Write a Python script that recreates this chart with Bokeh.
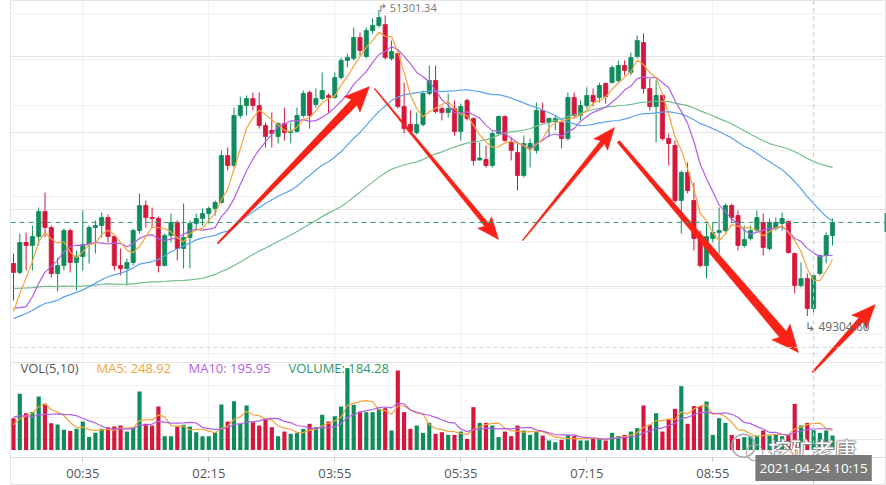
import numpy as np
import pandas as pd
from bokeh.plotting import figure
from bokeh.models import (Range1d, FixedTicker, DatetimeTickFormatter, Grid, Span,
                          Label, ColumnDataSource)
from bokeh.embed import file_html
from bokeh.resources import INLINE

# ---------------- data ----------------
start_time = "2021-04-23 23:40"
bar_minutes = 5

opens = [49647, 49589, 49784, 49765, 49823, 49986, 49882, 49582, 49634, 49862,
         49654, 49693, 49771, 49882, 49895, 49947, 49823, 49634, 49615, 49654,
         49862, 50025, 49947, 49941, 49634, 49830, 49915, 49745, 49817, 49908,
         49941, 49973, 50006, 50045, 50351, 50286, 50612, 50677, 50723, 50677,
         50547, 50514, 50475, 50560, 50501, 50508, 50612, 50762, 50684, 50723,
         50743, 50730, 50860, 50971, 50984, 51121, 50997, 51166, 51199, 51205,
         50984, 51016, 50671, 50554, 50501, 50554, 50756, 50840, 50658, 50632,
         50658, 50508, 50710, 50593, 50322, 50325, 50286, 50495, 50606, 50436,
         50371, 50221, 50404, 50384, 50645, 50567, 50573, 50567, 50462, 50730,
         50612, 50677, 50743, 50730, 50821, 50827, 50840, 50938, 50893, 50997,
         51088, 50788, 50671, 50743, 50462, 50417, 50058, 50241, 50058, 49823,
         49634, 49810, 49849, 49862, 50025, 49960, 49765, 49810, 49862, 49915,
         49745, 49875, 49908, 49921, 49712, 49504, 49549, 49354, 49582, 49699,
         49830]
highs = [49712, 49843, 49849, 49895, 50012, 50110, 49895, 49686, 49875, 49875,
         49732, 49993, 49895, 49928, 49980, 49967, 49830, 49745, 49680, 49875,
         50104, 50058, 50012, 49954, 49843, 49973, 49928, 50038, 49928, 49973,
         50006, 50019, 50058, 50384, 50404, 50664, 50736, 50743, 50762, 50762,
         50567, 50632, 50567, 50664, 50567, 50664, 50775, 50775, 50788, 50893,
         50756, 50893, 50990, 51016, 51186, 51153, 51186, 51245, 51301.34, 51264,
         51101, 51036, 50827, 50645, 50632, 50775, 50938, 50938, 50671, 50756,
         50710, 50690, 50723, 50599, 50436, 50417, 50508, 50612, 50612, 50469,
         50430, 50482, 50462, 50697, 50697, 50599, 50612, 50580, 50762, 50762,
         50710, 50795, 50788, 50827, 50827, 50938, 50971, 50971, 51023, 51134,
         51147, 50853, 50840, 50756, 50495, 50449, 50254, 50306, 50175, 49862,
         49908, 49915, 50012, 50038, 50038, 49993, 49895, 49895, 49993, 49973,
         49941, 49947, 49980, 49928, 49719, 49654, 49582, 49582, 49706, 49849,
         49941]
lows = [49406, 49576, 49602, 49602, 49765, 49817, 49556, 49465, 49602, 49589,
        49471, 49602, 49647, 49712, 49817, 49784, 49602, 49569, 49504, 49634,
        49843, 49882, 49882, 49589, 49628, 49784, 49667, 49615, 49615, 49862,
        49895, 49908, 49960, 50038, 50254, 50273, 50593, 50612, 50645, 50527,
        50404, 50404, 50430, 50449, 50430, 50501, 50599, 50527, 50664, 50710,
        50632, 50723, 50847, 50925, 50971, 51003, 50984, 51147, 51186, 50977,
        50971, 50658, 50495, 50488, 50488, 50541, 50743, 50625, 50580, 50599,
        50482, 50449, 50580, 50286, 50319, 50273, 50273, 50488, 50443, 50319,
        50123, 50208, 50273, 50364, 50560, 50469, 50514, 50397, 50449, 50593,
        50580, 50658, 50671, 50697, 50690, 50821, 50827, 50873, 50873, 50984,
        50756, 50645, 50436, 50449, 50286, 50045, 49843, 50104, 49732, 49621,
        49549, 49784, 49712, 49849, 49915, 49732, 49752, 49797, 49849, 49699,
        49732, 49862, 49862, 49712, 49452, 49491, 49304.60, 49328, 49569, 49647,
        49765]
closes = [49589, 49784, 49765, 49823, 49986, 49882, 49582, 49634, 49862, 49654,
          49693, 49771, 49882, 49895, 49947, 49823, 49634, 49615, 49654, 49862,
          50025, 49947, 49941, 49634, 49830, 49915, 49745, 49817, 49908, 49941,
          49973, 50006, 50045, 50351, 50286, 50612, 50677, 50723, 50677, 50547,
          50475, 50495, 50560, 50501, 50508, 50612, 50756, 50612, 50723, 50775,
          50730, 50860, 50971, 50990, 51121, 51036, 51166, 51199, 51251, 50990,
          51029, 50671, 50527, 50508, 50554, 50756, 50840, 50638, 50632, 50658,
          50508, 50671, 50593, 50319, 50335, 50286, 50495, 50606, 50449, 50384,
          50221, 50430, 50430, 50645, 50567, 50593, 50593, 50462, 50730, 50612,
          50677, 50743, 50704, 50808, 50736, 50925, 50938, 50906, 50990, 51101,
          50788, 50671, 50743, 50462, 50430, 50058, 50241, 50123, 49810, 49634,
          49823, 49849, 49862, 50025, 49947, 49765, 49804, 49862, 49947, 49752,
          49915, 49915, 49941, 49719, 49504, 49549, 49354, 49569, 49699, 49830,
          49915]
volumes = [297, 524, 343, 353, 499, 430, 250, 238, 188, 176,
           197, 266, 120, 160, 197, 213, 219, 228, 172, 213,
           545, 244, 228, 405, 129, 129, 219, 235, 219, 166,
           129, 129, 160, 424, 266, 455, 244, 415, 259, 228,
           291, 213, 129, 172, 151, 160, 197, 244, 213, 328,
           266, 315, 405, 763, 421, 359, 353, 353, 384, 390,
           182, 741, 353, 197, 228, 160, 253, 151, 166, 141,
           141, 172, 104, 399, 253, 253, 228, 120, 172, 129,
           228, 182, 141, 172, 135, 89, 73, 95, 141, 129,
           89, 89, 104, 110, 89, 160, 129, 141, 172, 204,
           415, 235, 343, 172, 284, 384, 595, 244, 409, 409,
           452, 141, 297, 253, 141, 104, 120, 129, 135, 182,
           135, 141, 129, 140, 430, 228, 253, 184.28, 160, 182,
           135]
# closes / volumes just before the visible window (they only feed the MA lines)
prev_closes = [49700, 49660, 49690, 49720, 49650, 49630, 49680, 49710, 49740, 49690,
               49660, 49700, 49670, 49640, 49690, 49720, 49700, 49660, 49680, 49650,
               49700, 49730, 49690, 49660, 49640, 49680, 49710, 49690, 49660, 49650,
               49290, 49262, 49222, 49241, 49275, 49300, 49262, 49210, 49228, 49248,
               49282, 49268, 49235, 49215, 49248, 49274, 49287, 49255, 49228, 49268,
               49732, 49699, 49178, 49113, 49145, 49210, 49243, 49289, 49341]
prev_volumes = [390, 350, 420, 360, 365, 240, 210, 235, 193]

tick_labels = ["00:35", "02:15", "03:55", "05:35", "07:15", "08:55"]
tick_day = "2021-04-24"
cursor_bar = 127
vol_legend = ["VOL(5,10)", "MA5: 248.92", "MA10: 195.95", "VOLUME: 184.28"]
watermark = "挖矿老唐"
price_grid = [51275, 50977, 50679, 50381, 50083, 49785, 49487, 49189]
volume_grid = [300, 600, 900]
pane_split = 49100          # dashed line between price and volume panes
time_axis_at = 48382        # price level where the time axis is drawn
# hand-drawn red arrows: (bar index, price)
arrow_starts = [(32.4, 49778), (57.3, 50788), (80.8, 49797), (96.0, 50443), (126.8, 48937)]
arrow_ends = [(56.5, 50801), (77.0, 49804), (95.4, 50534), (124.6, 49067), (136.8, 49380)]
arrow_tail_px = [1.5, 1.0, 1.0, 3.0, 1.5]
arrow_neck_px = [8.0, 5.0, 5.0, 9.0, 6.0]
arrow_head_len = [22, 19, 19, 24, 21]
arrow_head_half = [11, 9, 9, 12, 10]

# ---------------- styles / layout ----------------
UP = "#0f8c5c"
DOWN = "#d4173b"
C_MA5 = "#f5a33a"
C_MA10 = "#b45ee6"
C_MA30 = "#5ca3ee"
C_MA60 = "#74bd8c"
RED = "#fa2217"
FONT = "Open Sans"
W, H = 886, 485
LEFT = 10                 # frame left edge
BAR_PX = 6.3              # pixels per bar
FIRST_BAR_PX = 13         # x pixel of the first bar
PRICE_TOP = 51362         # price at the top edge
PRICE_PER_PX = 6.52
VOL_BASE_PX = 449.5
VOL_PER_PX = 9.32

n = len(closes)
times = pd.date_range(start_time, periods=n, freq=f"{bar_minutes}min")
t = (times.asi8 // 10**6).astype(float)
step = bar_minutes * 60 * 1000.0


def at(idx):
    return float(t[0] + idx * step)


def moving(prev, vals, k):
    s = pd.Series(list(prev) + list(vals), dtype=float).rolling(k).mean().to_numpy()
    return s[len(prev):]


o = np.array(opens, dtype=float)
c = np.array(closes, dtype=float)
colors = [UP if cc >= oo else DOWN for oo, cc in zip(o, c)]

src = ColumnDataSource(dict(
    t=t, h=highs, l=lows, top=np.maximum(o, c), bottom=np.minimum(o, c),
    color=colors, vol=volumes,
    ma5=moving(prev_closes, closes, 5), ma10=moving(prev_closes, closes, 10),
    ma30=moving(prev_closes, closes, 30), ma60=moving(prev_closes, closes, 60),
    vma5=moving(prev_volumes, volumes, 5), vma10=moving(prev_volumes, volumes, 10),
))

x0_idx = (LEFT - FIRST_BAR_PX) / BAR_PX
x1_idx = x0_idx + (W - LEFT) / BAR_PX
p = figure(width=W, height=H, x_axis_type="datetime",
           x_range=Range1d(at(x0_idx), at(x1_idx)),
           y_range=Range1d(PRICE_TOP - H * PRICE_PER_PX, PRICE_TOP),
           y_axis_location=None, toolbar_location=None, output_backend="svg",
           min_border_left=LEFT, min_border_right=0, min_border_top=0, min_border_bottom=0,
           outline_line_color="#e4e4e4", background_fill_color="white",
           border_fill_color="white")
p.extra_y_ranges = {"vol": Range1d((VOL_BASE_PX - H) * VOL_PER_PX, VOL_BASE_PX * VOL_PER_PX)}
p.xgrid.visible = False

tick_ms = [float(pd.Timestamp(f"{tick_day} {s}").value // 10**6) for s in tick_labels]
# vertical grid lines (stop at the time axis)
p.segment(x0=tick_ms, y0=[time_axis_at] * len(tick_ms), x1=tick_ms,
          y1=[PRICE_TOP] * len(tick_ms), line_color="#efefef", line_width=1)
p.add_layout(Grid(dimension=1, ticker=FixedTicker(ticks=price_grid), grid_line_color="#f0f0f0"))
p.add_layout(Grid(dimension=1, ticker=FixedTicker(ticks=volume_grid), y_range_name="vol",
                  grid_line_color="#f0f0f0"))

ax = p.xaxis[0]
ax.fixed_location = time_axis_at
ax.ticker = FixedTicker(ticks=tick_ms)
ax.formatter = DatetimeTickFormatter(minutes="%H:%M", hourmin="%H:%M", hours="%H:%M",
                                     days="%H:%M", minsec="%H:%M", seconds="%H:%M")
ax.major_label_text_font = FONT
ax.major_label_text_font_size = "13px"
ax.major_label_text_color = "#555555"
ax.axis_line_color = "#dddddd"
ax.major_tick_line_color = "#cccccc"
ax.minor_tick_line_color = None
ax.major_tick_in = 0
ax.major_tick_out = 4
ax.major_label_standoff = 2

p.add_layout(Span(location=pane_split, dimension="width", line_color="#d6d6d6",
                  line_dash="4 3", line_width=1))

w = 0.66 * step
# volume pane
p.vbar(x="t", width=w, top="vol", bottom=0, fill_color="color", line_color=None,
       y_range_name="vol", source=src)
p.line("t", "vma5", line_color=C_MA5, line_width=1.2, y_range_name="vol", source=src)
p.line("t", "vma10", line_color=C_MA10, line_width=1.2, y_range_name="vol", source=src)

# candles
p.segment(x0="t", y0="h", x1="t", y1="l", line_color="color", line_width=1, source=src)
p.vbar(x="t", width=w, top="top", bottom="bottom", fill_color="color", line_color="color",
       line_width=0.8, source=src)

for col, colr in (("ma60", C_MA60), ("ma30", C_MA30), ("ma10", C_MA10), ("ma5", C_MA5)):
    p.line("t", col, line_color=colr, line_width=1.2, source=src)

p.add_layout(Span(location=closes[-1], dimension="width", line_color="#2f9a6e",
                  line_dash="5 4", line_width=1))
p.add_layout(Span(location=t[cursor_bar], dimension="height", line_color="#c6c6c6",
                  line_dash="4 4", line_width=1))

imax = int(np.argmax(highs))
imin = int(np.argmin(lows))
p.add_layout(Label(x=t[imax], y=highs[imax], text=f"↱ {highs[imax]:.2f}", x_offset=-1,
                   y_offset=2, text_baseline="middle", text_font=FONT,
                   text_font_size="11px", text_color="#777777"))
p.add_layout(Label(x=t[imin], y=lows[imin], text=f"↳ {lows[imin]:.2f}", x_offset=-2,
                   y_offset=-10, text_baseline="middle", text_font=FONT,
                   text_font_size="12px", text_color="#666666"))

# last-price tag stub at the right edge (the rest of the tag is off the picture)
p.add_layout(Label(x=W - LEFT - 2, y=H - (PRICE_TOP - closes[-1]) / PRICE_PER_PX,
                   x_units="screen", y_units="screen", text="\u2007\u2007",
                   text_baseline="middle", text_font=FONT, text_font_size="11px",
                   text_color="white", background_fill_color="#2f9a6e", padding=2))

# volume legend
for txt, xx, col in zip(vol_legend, [10, 86, 178, 278],
                        ["#555555", C_MA5, C_MA10, "#2a9a6c"]):
    p.add_layout(Label(x=xx, y=H - 367.5, x_units="screen", y_units="screen", text=txt,
                       text_baseline="middle", text_font=FONT, text_font_size="13px",
                       text_color=col))


# red hand-drawn arrows (tapered shaft + head), built in pixel space
def px_to_data(px, py):
    return (at((px - FIRST_BAR_PX) / BAR_PX), PRICE_TOP - py * PRICE_PER_PX)


axs, ays = [], []
for (xs, ys), (xe, ye), tw, nw, hl, hw in zip(arrow_starts, arrow_ends, arrow_tail_px,
                                                arrow_neck_px, arrow_head_len, arrow_head_half):
    s = np.array([FIRST_BAR_PX + xs * BAR_PX, (PRICE_TOP - ys) / PRICE_PER_PX])
    e = np.array([FIRST_BAR_PX + xe * BAR_PX, (PRICE_TOP - ye) / PRICE_PER_PX])
    u = (e - s) / np.hypot(*(e - s))
    nrm = np.array([-u[1], u[0]])
    b = e - u * hl
    pts = [s + nrm * tw / 2, b + nrm * nw / 2, b - u * 3 + nrm * hw, e,
           b - u * 3 - nrm * hw, b - nrm * nw / 2, s - nrm * tw / 2]
    dd = [px_to_data(*q) for q in pts]
    axs.append([q[0] for q in dd])
    ays.append([q[1] for q in dd])
p.patches(axs, ays, fill_color=RED, line_color=RED, line_width=0.5)

# watermark
for big, xx, yy in ((True, 743, 443), (False, 754, 451)):
    p.add_layout(Label(x=xx - LEFT, y=H - yy, x_units="screen", y_units="screen", text="◯",
                       text_align="center", text_baseline="middle",
                       text_font_size="24px" if big else "17px", text_color="#a8a8a8"))
for dx, dy in ((-1, 0), (1, 0), (0, -1), (0, 1)):
    p.add_layout(Label(x=812 - LEFT + dx, y=H - 447 + dy, x_units="screen", y_units="screen",
                       text=watermark, text_align="center", text_baseline="middle",
                       text_font="Noto Sans CJK SC", text_font_size="22px",
                       text_color="#8e8e8e"))
p.add_layout(Label(x=812 - LEFT, y=H - 447, x_units="screen", y_units="screen",
                   text=watermark, text_align="center", text_baseline="middle",
                   text_font="Noto Sans CJK SC", text_font_size="22px",
                   text_color="#ffffff"))

# cursor date box
p.add_layout(Label(x=t[cursor_bar], y=H - 467.5, y_units="screen",
                   text=times[cursor_bar].strftime("%Y-%m-%d %H:%M"),
                   text_align="center", text_baseline="middle", text_font=FONT,
                   text_font_size="13.5px", text_color="white",
                   background_fill_color="#7a7a7a", padding=4))

open("out.html", "w").write(file_html(p, INLINE))
